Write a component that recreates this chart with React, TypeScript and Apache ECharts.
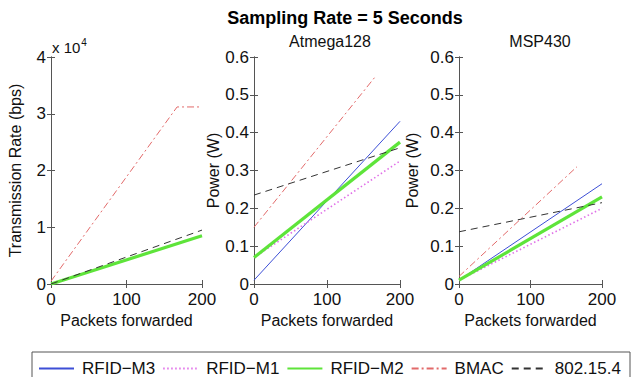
import React, { useEffect, useRef } from "react";
import * as echarts from "echarts";

// ---- data (x = packets forwarded) ----
const seriesNames = ["RFID\u2212M3", "RFID\u2212M1", "RFID\u2212M2", "BMAC", "802.15.4"];

// Panel 1: transmission rate (x 10^4 bps)
const rateM3 = [[0, 0], [200, 0.85]];
const rateM1 = [[0, 0], [200, 0.85]];
const rateM2 = [[0, 0], [200, 0.85]];
const rateBMAC = [[0, 0.05], [167, 3.12], [200, 3.12]];
const rate802 = [[0, 0], [200, 0.95]];

// Panel 2: Atmega128 power (W)
const atmM3 = [[0, 0.01], [200, 0.43]];
const atmM1 = [[0, 0.07], [200, 0.325]];
const atmM2 = [[0, 0.07], [200, 0.375]];
const atmBMAC = [[0, 0.15], [167, 0.55]];
const atm802 = [[0, 0.235], [200, 0.36]];

// Panel 3: MSP430 power (W)
const mspM3 = [[0, 0.01], [200, 0.265]];
const mspM1 = [[0, 0.01], [200, 0.2]];
const mspM2 = [[0, 0.01], [200, 0.23]];
const mspBMAC = [[0, 0.02], [165, 0.31]];
const msp802 = [[0, 0.138], [200, 0.215]];

const xTicks = [0, 100, 200];
const rateTicks = [0, 1, 2, 3, 4];
const powerTicks = [0, 0.1, 0.2, 0.3, 0.4, 0.5, 0.6];

const FONT = "Liberation Sans, Arial, Helvetica, sans-serif";

const styles = [
  { color: "#3d4fd6", width: 1, type: "solid" as any },
  { color: "#e070e8", width: 1.6, type: [1.5, 2.5] as any },
  { color: "#5ee43a", width: 3.2, type: "solid" as any },
  { color: "#e26a6a", width: 1, type: [7, 3, 2, 3] as any },
  { color: "#333333", width: 1, type: [7, 5] as any },
];

export default function App() {
  const ref = useRef<HTMLDivElement>(null);
  useEffect(() => {
    if (!ref.current) return;
    const chart = echarts.init(ref.current, null, { renderer: "svg" });

    const grids = [
      { left: 51, width: 151, top: 57, height: 227 },
      { left: 254, width: 146, top: 57, height: 227 },
      { left: 459, width: 143, top: 57, height: 227 },
    ];
    const yRanges = [
      { ticks: rateTicks, name: "Transmission Rate (bps)", gap: 28 },
      { ticks: powerTicks, name: "Power (W)", gap: 33 },
      { ticks: powerTicks, name: "Power (W)", gap: 39 },
    ];
    const panelData = [
      [rateM3, rateM1, rateM2, rateBMAC, rate802],
      [atmM3, atmM1, atmM2, atmBMAC, atm802],
      [mspM3, mspM1, mspM2, mspBMAC, msp802],
    ];

    const axisLine = { show: true, lineStyle: { color: "#555", width: 1 } };
    const tick = { show: true, inside: true, length: 4, lineStyle: { color: "#555" } };
    const labelStyle = { color: "#111", fontSize: 17, fontFamily: FONT };

    const xAxis: any[] = [];
    const yAxis: any[] = [];
    const series: any[] = [];

    grids.forEach((g, i) => {
      xAxis.push({
        type: "value", gridIndex: i, min: xTicks[0], max: xTicks[2], interval: xTicks[1] - xTicks[0],
        position: "bottom",
        axisLine, axisTick: tick, splitLine: { show: false },
        axisLabel: { ...labelStyle, margin: 7, showMinLabel: true, showMaxLabel: true },
        name: "Packets forwarded", nameLocation: "middle", nameGap: 25,
        nameTextStyle: { color: "#111", fontSize: 16, fontFamily: FONT },
      });
      xAxis.push({
        type: "value", gridIndex: i, min: xTicks[0], max: xTicks[2], interval: xTicks[1] - xTicks[0], position: "top",
        axisLine, axisTick: tick, splitLine: { show: false }, axisLabel: { show: false },
      });
      const yr = yRanges[i];
      const yMax = yr.ticks[yr.ticks.length - 1];
      const yInt = yr.ticks[1] - yr.ticks[0];
      yAxis.push({
        type: "value", gridIndex: i, min: 0, max: yMax, interval: yInt,
        position: "left",
        axisLine, axisTick: tick, splitLine: { show: false },
        axisLabel: { ...labelStyle, margin: 5 },
        name: yr.name, nameLocation: "middle", nameGap: yr.gap,
        nameTextStyle: { color: "#111", fontSize: 16, fontFamily: FONT },
      });
      yAxis.push({
        type: "value", gridIndex: i, min: 0, max: yMax, interval: yInt,
        position: "right",
        axisLine, axisTick: tick, splitLine: { show: false }, axisLabel: { show: false },
      });
      panelData[i].forEach((d, k) => {
        series.push({
          type: "line", name: seriesNames[k], xAxisIndex: i * 2, yAxisIndex: i * 2,
          data: d, symbol: "none", z: 2 + k,
          lineStyle: { ...styles[k] }, itemStyle: { color: styles[k].color },
        });
      });
    });

    chart.setOption({
      animation: false,
      backgroundColor: "#fff",
      grid: grids,
      xAxis, yAxis, series,
      legend: {
        data: seriesNames,
        left: 38, top: 360, width: 594, padding: 0, orient: "horizontal",
        itemWidth: 35, itemHeight: 14, itemGap: 7,
        itemStyle: { opacity: 0, borderWidth: 0 },
        textStyle: { color: "#111", fontSize: 17, fontFamily: FONT, padding: [0, 0, 0, 3] },
        selectedMode: false,
      },
      graphic: [
        { type: "rect", shape: { x: 32, y: 352, width: 598, height: 40 }, style: { fill: "none", stroke: "#555", lineWidth: 1 }, silent: true },
        { type: "text", x: 345, y: 18, style: { text: "Sampling Rate = 5 Seconds", font: `bold 18px ${FONT}`, fill: "#000", textAlign: "center", textVerticalAlign: "middle" } },
        { type: "text", x: 330, y: 41, style: { text: "Atmega128", font: `16px ${FONT}`, fill: "#111", textAlign: "center", textVerticalAlign: "middle" } },
        { type: "text", x: 540, y: 41, style: { text: "MSP430", font: `16px ${FONT}`, fill: "#111", textAlign: "center", textVerticalAlign: "middle" } },
        {
          type: "text", x: 52, y: 46,
          style: {
            text: "{a|x 10}{b|4}",
            rich: {
              a: { font: `15px ${FONT}`, fill: "#111", verticalAlign: "bottom" },
              b: { font: `10px ${FONT}`, fill: "#111", verticalAlign: "top", padding: [0, 0, 8, 1] },
            },
            textVerticalAlign: "middle",
          },
        },
      ],
    });
    return () => chart.dispose();
  }, []);
  return <div ref={ref} style={{ position: "fixed", left: 0, top: 0, width: 634, height: 377 }} />;
}
